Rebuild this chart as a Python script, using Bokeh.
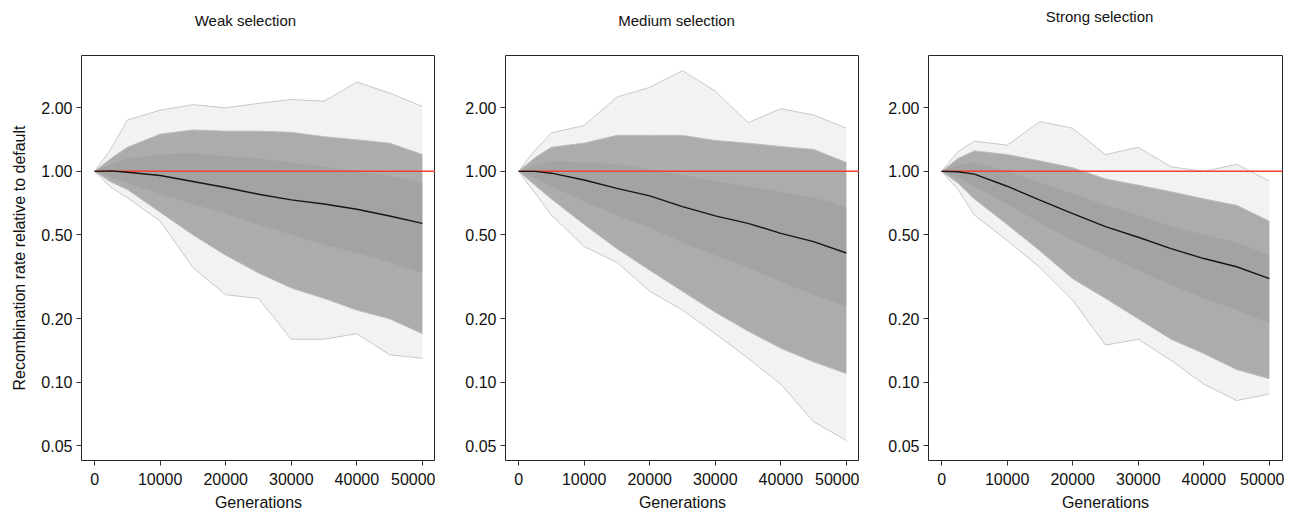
from bokeh.plotting import figure
from bokeh.layouts import row
from bokeh.models import FixedTicker, Range1d, LinearAxis
from bokeh.embed import file_html
from bokeh.resources import INLINE

# ---------------- data ----------------
GENS = [0, 2500, 5000, 10000, 15000, 20000, 25000, 30000, 35000, 40000, 45000, 50000]

X_TICKS = [0, 10000, 20000, 30000, 40000, 50000]
Y_TICKS = [0.05, 0.1, 0.2, 0.5, 1.0, 2.0]
Y_TICK_LABELS = ["0.05", "0.10", "0.20", "0.50", "1.00", "2.00"]

TITLES = ["Weak selection", "Medium selection", "Strong selection"]

# Weak selection: mean trajectory and spread of the replicate trajectories
WEAK_MEAN = [1.0, 1.005, 0.99, 0.955, 0.895, 0.838, 0.779, 0.732, 0.70, 0.661, 0.614, 0.567]
WEAK_MAX = [1.0, 1.28, 1.75, 1.95, 2.07, 2.0, 2.1, 2.19, 2.15, 2.65, 2.35, 2.03]
WEAK_Q90 = [1.0, 1.15, 1.30, 1.50, 1.57, 1.55, 1.55, 1.53, 1.46, 1.41, 1.36, 1.20]
WEAK_Q75 = [1.0, 1.08, 1.15, 1.20, 1.22, 1.18, 1.15, 1.10, 1.05, 1.00, 0.95, 0.88]
WEAK_Q25 = [1.0, 0.94, 0.88, 0.78, 0.70, 0.63, 0.56, 0.50, 0.45, 0.41, 0.37, 0.33]
WEAK_Q10 = [1.0, 0.89, 0.82, 0.64, 0.50, 0.40, 0.33, 0.28, 0.25, 0.22, 0.20, 0.17]
WEAK_MIN = [1.0, 0.84, 0.75, 0.58, 0.35, 0.26, 0.25, 0.16, 0.16, 0.17, 0.135, 0.13]

# Medium selection
MED_MEAN = [1.0, 1.0, 0.98, 0.91, 0.83, 0.765, 0.68, 0.615, 0.567, 0.508, 0.464, 0.41]
MED_MAX = [1.0, 1.26, 1.52, 1.65, 2.25, 2.5, 3.0, 2.4, 1.7, 1.98, 1.85, 1.6]
MED_Q90 = [1.0, 1.16, 1.30, 1.36, 1.48, 1.48, 1.48, 1.40, 1.36, 1.31, 1.27, 1.10]
MED_Q75 = [1.0, 1.07, 1.12, 1.10, 1.08, 1.02, 0.96, 0.90, 0.85, 0.80, 0.75, 0.68]
MED_Q25 = [1.0, 0.93, 0.85, 0.72, 0.62, 0.54, 0.46, 0.40, 0.35, 0.30, 0.26, 0.23]
MED_Q10 = [1.0, 0.86, 0.74, 0.56, 0.43, 0.34, 0.27, 0.215, 0.175, 0.145, 0.125, 0.11]
MED_MIN = [1.0, 0.79, 0.62, 0.44, 0.37, 0.27, 0.22, 0.17, 0.13, 0.098, 0.065, 0.053]

# Strong selection
STRONG_MEAN = [1.0, 0.995, 0.97, 0.85, 0.73, 0.63, 0.547, 0.487, 0.43, 0.386, 0.353, 0.31]
STRONG_MAX = [1.0, 1.24, 1.39, 1.33, 1.72, 1.6, 1.2, 1.3, 1.05, 1.0, 1.08, 0.9]
STRONG_Q90 = [1.0, 1.15, 1.25, 1.20, 1.12, 1.04, 0.92, 0.86, 0.80, 0.74, 0.69, 0.58]
STRONG_Q75 = [1.0, 1.07, 1.10, 1.00, 0.88, 0.78, 0.69, 0.62, 0.55, 0.50, 0.46, 0.40]
STRONG_Q25 = [1.0, 0.93, 0.85, 0.70, 0.57, 0.47, 0.40, 0.34, 0.29, 0.25, 0.22, 0.19]
STRONG_Q10 = [1.0, 0.88, 0.74, 0.56, 0.42, 0.31, 0.25, 0.20, 0.16, 0.137, 0.115, 0.104]
STRONG_MIN = [1.0, 0.82, 0.62, 0.47, 0.35, 0.245, 0.15, 0.16, 0.127, 0.098, 0.082, 0.088]

DEFAULT_RATE = 1.0

X_START, X_END = -2000, 52000
Y_LOW, Y_HIGH = 0.0426, 3.54

FONT = "Liberation Sans"


def make_panel(title, mean, mx, q90, q75, q25, q10, mn, left_border, right_border,
               show_ylabel, title_anchor, title_standoff):
    p = figure(frame_width=354, frame_height=405,
               x_range=Range1d(X_START, X_END), y_range=Range1d(Y_LOW, Y_HIGH),
               y_axis_type="log", output_backend="svg", toolbar_location=None,
               min_border_left=left_border, min_border_right=right_border,
               min_border_top=55, min_border_bottom=52)
    p.background_fill_color = "white"
    p.border_fill_color = "white"
    p.outline_line_color = "#262626"
    p.outline_line_width = 1
    p.grid.visible = False

    # panel title: a single labelled (invisible) tick on an axis above the frame
    top = LinearAxis(ticker=FixedTicker(ticks=[title_anchor]))
    top.major_label_overrides = {title_anchor: title}
    top.axis_line_color = None
    top.major_tick_line_color = None
    top.minor_tick_line_color = None
    top.major_tick_out = 0
    top.major_tick_in = 0
    top.major_label_standoff = title_standoff
    top.major_label_text_font = FONT
    top.major_label_text_font_size = "15px"
    top.major_label_text_color = "#111111"
    p.add_layout(top, "above")

    # spread of replicate trajectories
    p.varea(x=GENS, y1=mn, y2=mx, fill_color="#e6e6e6", fill_alpha=0.5)
    p.varea(x=GENS, y1=q10, y2=q90, fill_color="#a0a0a0", fill_alpha=0.85)
    p.varea(x=GENS, y1=q25, y2=q75, fill_color="#8e8e8e", fill_alpha=0.3)
    p.line(GENS, mx, line_color="#c8c8c8", line_width=1)
    p.line(GENS, mn, line_color="#c8c8c8", line_width=1)
    p.line(GENS, q90, line_color="#bbbbbb", line_width=1)
    p.line(GENS, q10, line_color="#bbbbbb", line_width=1)

    # default rate reference line
    p.line([0, X_END], [DEFAULT_RATE, DEFAULT_RATE], line_color="#f5402a", line_width=1.5)
    # mean trajectory
    p.line(GENS, mean, line_color="#161616", line_width=1.4)

    for ax in (p.below[0], p.left[0]):
        ax.axis_line_color = None
        ax.major_tick_line_color = "#333333"
        ax.major_tick_out = 5
        ax.major_tick_in = 0
        ax.minor_tick_line_color = None
        ax.major_label_text_font = FONT
        ax.major_label_text_font_size = "16px"
        ax.major_label_text_color = "#111111"
        ax.axis_label_text_font = FONT
        ax.axis_label_text_font_size = "16px"
        ax.axis_label_text_font_style = "normal"
        ax.axis_label_text_color = "#111111"

    xa = p.below[0]
    xa.ticker = FixedTicker(ticks=X_TICKS)
    xa.major_label_overrides = {t: str(t) for t in X_TICKS}
    xa.major_label_standoff = 7
    xa.axis_label = "Generations"
    xa.axis_label_standoff = 6

    ya = p.left[0]
    ya.ticker = FixedTicker(ticks=Y_TICKS)
    ya.major_label_overrides = {t: l for t, l in zip(Y_TICKS, Y_TICK_LABELS)}
    ya.major_label_standoff = 4
    if show_ylabel:
        ya.axis_label = "Recombination rate relative to default"
        ya.axis_label_standoff = 10
    return p


p1 = make_panel(TITLES[0], WEAK_MEAN, WEAK_MAX, WEAK_Q90, WEAK_Q75, WEAK_Q25, WEAK_Q10, WEAK_MIN,
                81, 0, True, 23000, 27)
p2 = make_panel(TITLES[1], MED_MEAN, MED_MAX, MED_Q90, MED_Q75, MED_Q25, MED_Q10, MED_MIN,
                70, 0, False, 24100, 27)
p3 = make_panel(TITLES[2], STRONG_MEAN, STRONG_MAX, STRONG_Q90, STRONG_Q75, STRONG_Q25, STRONG_Q10,
                STRONG_MIN, 69, 2, False, 24100, 31)

layout = row(p1, p2, p3)
open("out.html", "w").write(file_html(layout, INLINE))
